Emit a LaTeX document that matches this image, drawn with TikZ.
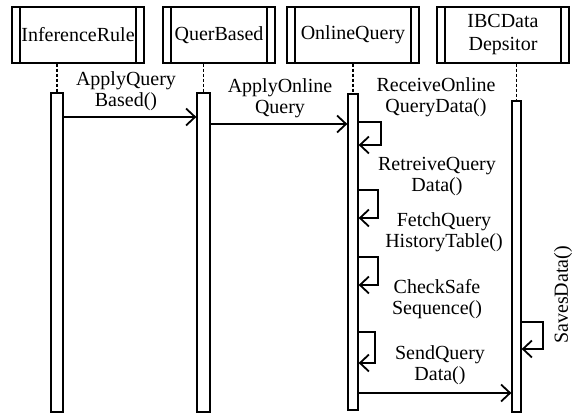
\documentclass[tikz,border=0pt]{standalone}
\usepackage{fontspec}
\setmainfont{Liberation Serif}
\usetikzlibrary{arrows.meta,calc}
\tikzset{
  hdr/.style={draw, line width=1.2pt, minimum height=56pt, inner sep=0pt, align=center,
    font=\fontsize{20}{23}\selectfont,
    path picture={
      \draw[line width=1.2pt] ([xshift=8pt]path picture bounding box.north west) -- ([xshift=8pt]path picture bounding box.south west);
      \draw[line width=1.2pt] ([xshift=-8pt]path picture bounding box.north east) -- ([xshift=-8pt]path picture bounding box.south east);
    }},
  act/.style={draw, line width=1.3pt, fill=white, inner sep=0pt},
  life/.style={line width=1.2pt, dash pattern=on 3pt off 2pt},
  msg/.style={line width=1.8pt, -{Straight Barb[length=9pt,width=17pt,line width=1.8pt]}},
  lbl/.style={align=center, font=\fontsize{20}{21}\selectfont, inner sep=0pt}
}
\begin{document}
\begin{tikzpicture}[x=1pt,y=1pt]
\useasboundingbox (0,0) rectangle (573,-414);
% headers
\node[hdr, minimum width=132pt] (h1) at (78,-35) {InferenceRule};
\node[hdr, minimum width=112pt] (h2) at (219,-35) {QuerBased};
\node[hdr, minimum width=132pt] (h3) at (353,-35) {OnlineQuery};
\node[hdr, minimum width=132pt] (h4) at (503,-35) {IBCData\\Depsitor};
% activations
\node[act, minimum width=12pt, minimum height=319pt] (a1) at (57,-252.5) {};
\node[act, minimum width=13pt, minimum height=319pt] (a2) at (203.5,-252.5) {};
\node[act, minimum width=10pt, minimum height=316pt] (a3) at (353,-252) {};
\node[act, minimum width=9pt, minimum height=311pt] (a4) at (516.5,-256.5) {};
% lifelines
\draw[life] (h1.south -| a1.north) -- (a1.north);
\draw[life] (h2.south -| a2.north) -- (a2.north);
\draw[life] (h3.south -| a3.north) -- (a3.north);
\draw[life] (h4.south -| a4.north) -- (a4.north);
% messages
\coordinate (m1) at (0,-117);
\draw[msg] (a1.east |- m1) -- (a2.west |- m1);
\node[lbl] (l1) at (126,-91) {ApplyQuery\\Based()};
\coordinate (m2) at (0,-124);
\draw[msg] (a2.east |- m2) -- (a3.west |- m2);
\node[lbl] (l2) at (280,-98) {ApplyOnline\\Query};
% self loops on OnlineQuery
\coordinate (s1t) at (381,-122); \coordinate (s1b) at (381,-145);
\draw[msg] (a3.east |- s1t) -- (s1t) -- (s1b) -- (a3.east |- s1b);
\node[lbl] (l3) at (436,-97) {ReceiveOnline\\QueryData()};
\coordinate (s2t) at (378,-190); \coordinate (s2b) at (378,-218);
\draw[msg] (a3.east |- s2t) -- (s2t) -- (s2b) -- (a3.east |- s2b);
\node[lbl] (l4) at (437,-177) {RetreiveQuery\\Data()};
\coordinate (s3t) at (378,-257); \coordinate (s3b) at (378,-285);
\draw[msg] (a3.east |- s3t) -- (s3t) -- (s3b) -- (a3.east |- s3b);
\node[lbl] (l5) at (444,-232) {FetchQuery\\HistoryTable()};
\coordinate (s4t) at (375,-332); \coordinate (s4b) at (375,-363);
\draw[msg] (a3.east |- s4t) -- (s4t) -- (s4b) -- (a3.east |- s4b);
\node[lbl] (l6) at (437,-299) {CheckSafe\\Sequence()};
\node[lbl] (l7) at (440,-365) {SendQuery\\Data()};
\coordinate (m3) at (0,-393);
\draw[msg] (a3.east |- m3) -- (a4.west |- m3);
% self loop on IBC
\coordinate (s5t) at (543,-322); \coordinate (s5b) at (543,-349);
\draw[msg] (a4.east |- s5t) -- (s5t) -- (s5b) -- (a4.east |- s5b);
\node[lbl, rotate=90] (l8) at (563,-295) {SavesData()};
\end{tikzpicture}
\end{document}
